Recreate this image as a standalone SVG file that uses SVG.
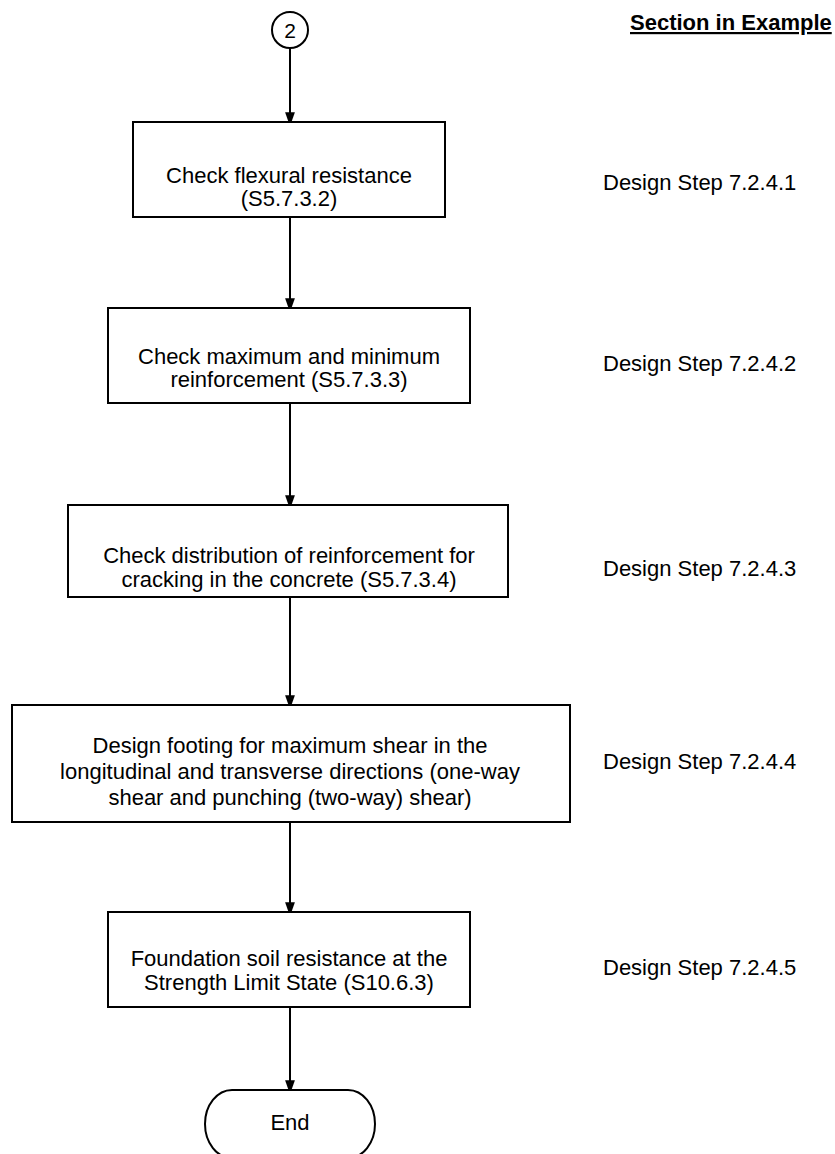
<svg xmlns="http://www.w3.org/2000/svg" width="835" height="1154" viewBox="0 0 835 1154">
<style>
.box{fill:#fff;stroke:#000;stroke-width:2}
.t{font-family:"Liberation Sans",Arial,sans-serif;font-size:22px;fill:#000;text-anchor:middle}
.s{font-family:"Liberation Sans",Arial,sans-serif;font-size:22px;fill:#000}
.h{font-family:"Liberation Sans",Arial,sans-serif;font-size:22px;font-weight:bold;fill:#000;text-decoration:underline}
.c{stroke:#000;stroke-width:2;fill:none;marker-end:url(#a)}
</style>
<defs>
<marker id="a" markerWidth="14" markerHeight="20" refX="14" refY="7" orient="auto" markerUnits="userSpaceOnUse" viewBox="0 0 20 14">
<path d="M0,0 L20,7 L0,14 Z" fill="#000"/>
</marker>
</defs>
<rect width="835" height="1154" fill="#fff"/>
<g id="connectors">
<line class="c" x1="290" y1="48" x2="290" y2="122"/>
<line class="c" x1="290" y1="217" x2="290" y2="308"/>
<line class="c" x1="290" y1="403" x2="290" y2="505"/>
<line class="c" x1="290" y1="597" x2="290" y2="705"/>
<line class="c" x1="290" y1="822" x2="290" y2="912"/>
<line class="c" x1="290" y1="1007" x2="290" y2="1090"/>
</g>
<g id="connector-2">
<circle cx="290" cy="30" r="18" fill="#fff" stroke="#000" stroke-width="2"/>
<text class="t" x="290" y="38" style="font-size:21px">2</text>
</g>
<g id="header"><text class="h" x="630" y="30">Section in Example</text></g>
<g id="step1">
<rect class="box" x="133" y="122" width="312" height="95"/>
<text class="t" x="289" y="183">Check flexural resistance</text>
<text class="t" x="289" y="206">(S5.7.3.2)</text>
<text class="s" x="603" y="190">Design Step 7.2.4.1</text>
</g>
<g id="step2">
<rect class="box" x="108" y="308" width="362" height="95"/>
<text class="t" x="289" y="364">Check maximum and minimum</text>
<text class="t" x="289" y="387">reinforcement (S5.7.3.3)</text>
<text class="s" x="603" y="371">Design Step 7.2.4.2</text>
</g>
<g id="step3">
<rect class="box" x="68" y="505" width="440" height="92"/>
<text class="t" x="289" y="563">Check distribution of reinforcement for</text>
<text class="t" x="289" y="587">cracking in the concrete (S5.7.3.4)</text>
<text class="s" x="603" y="576">Design Step 7.2.4.3</text>
</g>
<g id="step4">
<rect class="box" x="12" y="705" width="558" height="117"/>
<text class="t" x="290" y="753">Design footing for maximum shear in the</text>
<text class="t" x="290" y="779">longitudinal and transverse directions (one-way</text>
<text class="t" x="290" y="805">shear and punching (two-way) shear)</text>
<text class="s" x="603" y="769">Design Step 7.2.4.4</text>
</g>
<g id="step5">
<rect class="box" x="108" y="912" width="362" height="95"/>
<text class="t" x="289" y="966">Foundation soil resistance at the</text>
<text class="t" x="289" y="990">Strength Limit State (S10.6.3)</text>
<text class="s" x="603" y="975">Design Step 7.2.4.5</text>
</g>
<g id="end">
<path d="M232,1090 H348 A27,34 0 0 1 348,1158 H232 A27,34 0 0 1 232,1090 Z" fill="#fff" stroke="#000" stroke-width="2"/>
<text class="t" x="290" y="1130">End</text>
</g>
</svg>
